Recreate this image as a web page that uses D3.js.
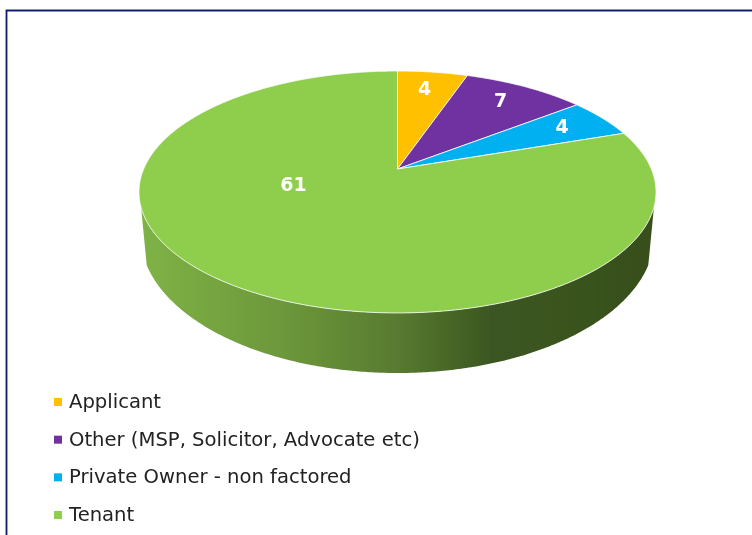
<!DOCTYPE html>
<html>
<head>
<meta charset="utf-8">
<script src="https://d3js.org/d3.v7.min.js"></script>
<style>
  html, body { margin: 0; padding: 0; background: #fff; }
  svg { display: block; }
  text { font-family: "DejaVu Sans", Verdana, sans-serif; }
</style>
</head>
<body>
<svg id="chart"></svg>
<script>
var categories = ['Applicant', 'Other (MSP, Solicitor, Advocate etc)', 'Private Owner - non factored', 'Tenant'];
var values = [4, 7, 4, 61];
var colors = ['#FFC000', '#7030A0', '#00B0F0', '#8FCE4E'];

var width = 752, height = 535;

// tilted disc: circle seen in perspective, apex sits above the ellipse centre
var cx = 397.5, cy = 169;
var tilt = -0.19;
var radX = 253.8, radY = 116.6;

function topFace(angle, r) {
  var x = r * Math.sin(angle), y = -r * Math.cos(angle);
  var w = 1 + tilt * y;
  return [cx + radX * x / w, cy + radY * y / w];
}

// bottom edge of the side wall
function lowEdge(t) {
  return [cx + 257 * Math.cos(t), 235 + 138 * Math.sin(t)];
}

var svg = d3.select('#chart')
  .attr('width', width)
  .attr('height', height);

var defs = svg.append('defs');

// the reference is a slightly soft screenshot
defs.append('filter')
  .attr('id', 'soft')
  .attr('filterUnits', 'userSpaceOnUse')
  .attr('x', 0).attr('y', 0)
  .attr('width', width).attr('height', height)
  .append('feGaussianBlur')
  .attr('stdDeviation', 0.35);

var grad = defs.append('linearGradient')
  .attr('id', 'side')
  .attr('gradientUnits', 'userSpaceOnUse')
  .attr('x1', 140).attr('x2', 656)
  .attr('y1', 0).attr('y2', 0);
grad.append('stop').attr('offset', 0).attr('stop-color', '#7fb346');
grad.append('stop').attr('offset', 0.3).attr('stop-color', '#6b953a');
grad.append('stop').attr('offset', 0.5).attr('stop-color', '#587a30');
grad.append('stop').attr('offset', 0.68).attr('stop-color', '#3b5720');
grad.append('stop').attr('offset', 1).attr('stop-color', '#384f1e');

var root = svg.append('g').attr('filter', 'url(#soft)');

root.append('path')
  .attr('d', 'M6.5,535V10.5H752')
  .attr('fill', 'none')
  .attr('stroke', '#0f1f73')
  .attr('stroke-width', 1.8);

var line = d3.line();

// side wall: front part of the top rim, then back along the bottom edge
var sideFrom = Math.PI * 0.6, sideTo = Math.PI * 1.4;
var sweep = d3.range(sideFrom, sideTo, 0.01).concat([sideTo]);
var edgeFrom = 0.22, edgeTo = Math.PI - 0.22;
var edge = d3.range(edgeFrom, edgeTo, 0.01).concat([edgeTo]);
var wall = sweep.map(function(a) { return topFace(a, 1); })
  .concat(edge.slice().reverse().map(lowEdge));
root.append('path')
  .attr('d', line(wall) + 'Z')
  .attr('fill', 'url(#side)');

var pie = d3.pie().sort(null).value(function(d) { return d; });
var slices = pie(values);

function slicePath(d) {
  var pts = [[cx, cy]];
  d3.range(d.startAngle, d.endAngle, 0.005).forEach(function(a) {
    pts.push(topFace(a, 1));
  });
  pts.push(topFace(d.endAngle, 1));
  return line(pts) + 'Z';
}

root.selectAll('path.slice')
  .data(slices)
  .enter()
  .append('path')
  .attr('class', 'slice')
  .attr('d', slicePath)
  .attr('fill', function(d, i) { return colors[i]; })
  .attr('stroke', '#fff')
  .attr('stroke-opacity', 0.8)
  .attr('stroke-width', 1)
  .attr('stroke-linejoin', 'round');

// data labels, the big slice gets moved towards the middle like Excel does
root.selectAll('text.value')
  .data(slices)
  .enter()
  .append('text')
  .attr('class', 'value')
  .attr('transform', function(d) {
    var mid = (d.startAngle + d.endAngle) / 2;
    var big = d.value > 30;
    var p = topFace(mid, big ? 0.5 : 0.8);
    return 'translate(' + (p[0] + (big ? -24 : -2)) + ',' + (p[1] + (big ? -36 : -1)) + ')';
  })
  .attr('text-anchor', 'middle')
  .attr('dy', '0.36em')
  .attr('fill', '#fff')
  .attr('font-size', '19px')
  .attr('font-weight', 'bold')
  .text(function(d) { return d.value; });

var legendY = d3.scalePoint()
  .domain(categories)
  .range([402, 515]);

var legend = root.selectAll('g.legend')
  .data(categories)
  .enter()
  .append('g')
  .attr('class', 'legend')
  .attr('transform', function(d) { return 'translate(54,' + legendY(d) + ')'; });

legend.append('rect')
  .attr('x', 0)
  .attr('y', -4)
  .attr('width', 8)
  .attr('height', 8)
  .attr('fill', function(d, i) { return colors[i]; });

legend.append('text')
  .attr('x', 15)
  .attr('y', 0)
  .attr('dy', '0.31em')
  .attr('font-size', '19.6px')
  .attr('fill', '#222')
  .text(function(d) { return d; });
</script>
</body>
</html>
